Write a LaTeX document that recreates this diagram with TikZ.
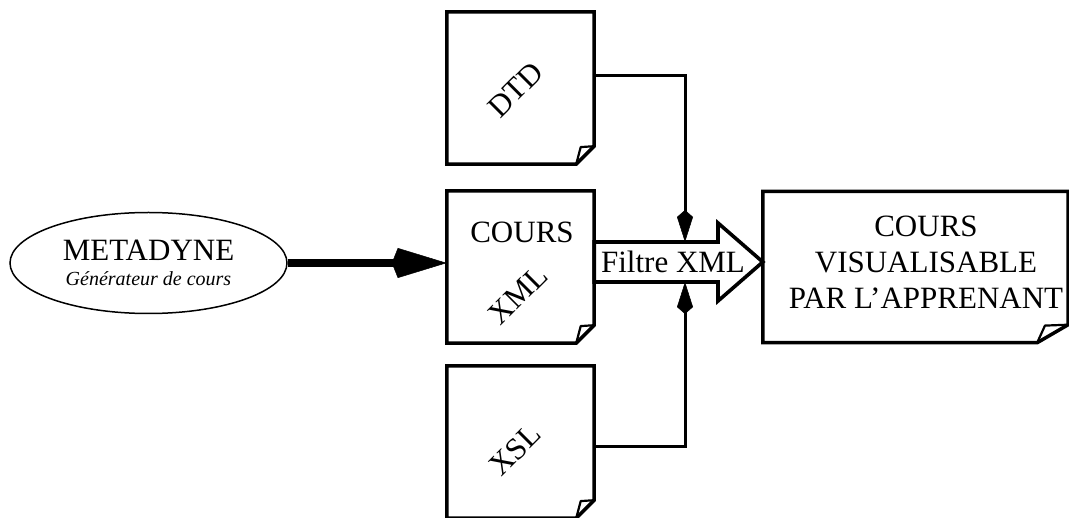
\documentclass[tikz,border=0pt]{standalone}
\usepackage{fontspec}
\setmainfont{Liberation Serif}
\usetikzlibrary{shapes.geometric,arrows.meta}

\tikzset{
  doc/.style={rectangle, inner sep=0pt, minimum width=147pt, minimum height=152pt},
  link/.style={line width=3pt, -{Kite[length=32pt,width=16pt,inset=7pt,line width=0.5pt]}},
  tilted/.style={rotate=45, font=\fontsize{31}{34}\selectfont},
}
% outline of a page with a folded corner
\newcommand{\pageoutline}[3]{%
  \draw[line width=3.5pt, line join=miter] (#1.north west) -- (#1.north east) -- ([yshift=#3]#1.south east) -- ([xshift=-#2]#1.south east) -- (#1.south west) -- cycle;
  \draw[line width=2.2pt, line join=round] ([xshift=-#2]#1.south east) -- ([xshift=-0.75*#2, yshift=0.95*#3]#1.south east) -- ([yshift=#3]#1.south east);
}

\begin{document}
\begin{tikzpicture}[x=1pt, y=-1pt, font=\fontsize{31}{36}\selectfont]
\useasboundingbox (0,0) rectangle (1069,518);

\node[doc] (xml) at (520.5,267) {};
\node[doc, above of=xml, node distance=179pt] (dtd) {};
\node[doc, below of=xml, node distance=175pt] (xsl) {};
\node[doc, minimum width=305pt, minimum height=151pt, right of=xml, node distance=395pt] (vis) {};
\node[draw, ellipse, line width=1.5pt, minimum width=277pt, minimum height=101pt, inner sep=0pt, align=center] (meta) at (148.5,263) {METADYNE\\[-11pt]{\fontsize{20}{24}\selectfont\itshape Générateur de cours}};

\pageoutline{dtd}{18pt}{18pt}
\pageoutline{xml}{18pt}{18pt}
\pageoutline{xsl}{18pt}{18pt}
\pageoutline{vis}{31pt}{18pt}

\node[tilted] (dtdtxt) at ([xshift=-5pt, yshift=-2pt]dtd.center) {DTD};
\node (courstxt) at ([xshift=1.5pt, yshift=35pt]xml.center) {COURS};
\node[tilted] (xmltxt) at ([xshift=-2.5pt, yshift=-28pt]xml.center) {XML};
\node[tilted] (xsltxt) at ([xshift=-5.5pt, yshift=-8pt]xsl.center) {XSL};
\node[align=center] (vistxt) at ([xshift=10.5pt, yshift=4.5pt]vis.center) {COURS\\VISUALISABLE\\PAR L’APPRENANT};

% filter arrow
\draw[line width=3.6pt, fill=white] (xml.east |- 0,242) -- (718,242) -- (718,223) -- (vis.west |- 0,262) -- (718,301) -- (718,282) -- (xml.east |- 0,282) -- cycle;
\node (filtre) at (673,262) {Filtre XML};
\coordinate (ftop) at (685,242);
\coordinate (fbot) at (685,282);

\draw[link] ([yshift=12pt]dtd.east) -| (ftop);
\draw[link] ([yshift=-5pt]xsl.east) -| (fbot);
\draw[line width=7.5pt, -{Kite[length=55pt,width=30pt,inset=6pt,line width=0.5pt]}] (meta.east) -- (meta.east -| xml.west);

\end{tikzpicture}
\end{document}
